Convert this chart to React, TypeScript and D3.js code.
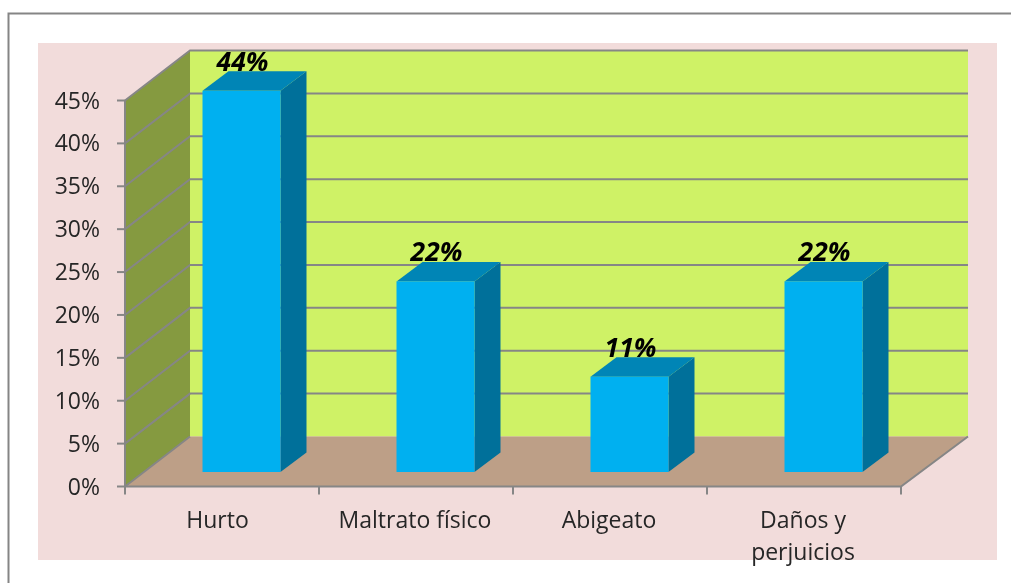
import React from "react";
import * as d3 from "d3";

const categories = ["Hurto", "Maltrato físico", "Abigeato", "Daños y|perjuicios"];
const values = [0.4444, 0.2222, 0.1111, 0.2222];
const ticks = [0, 0.05, 0.1, 0.15, 0.2, 0.25, 0.3, 0.35, 0.4, 0.45];

const W = 1011, H = 583;
const x0 = 125, x1 = 901, y0 = 486.5, y1 = 100.5;
const depthX = 65, depthY = -50;
const barDX = 19.5, barDY = -14.5, barW = 78, barDepthX = 26, barDepthY = -19.5;
const labelShift = [-4.5, -1, -1, -1];
const FONT = "'Open Sans', sans-serif";
const GRID = "#868686";

const y = d3.scaleLinear().domain([0, 0.45]).range([y0, y1]);
const x = d3.scaleBand<string>().domain(categories).range([x0, x1]);
const pct = d3.format(".0%");
const poly = (pts: number[][]) => d3.line()(pts as [number, number][]) + "Z";

export default function App() {
  const backR = x1 + depthX + 2;
  return (
    <svg width={W} height={H} style={{ position: "absolute", left: 0, top: 0, display: "block" }}>
      <defs>
        <filter id="soft" x="0" y="0" width="100%" height="100%" filterUnits="userSpaceOnUse" primitiveUnits="userSpaceOnUse">
          <feGaussianBlur stdDeviation="0.45" />
        </filter>
      </defs>
      <rect width={W} height={H} fill="#ffffff" />
      <g filter="url(#soft)">
        <path d={`M8.5 ${H + 5}V13.5H${W + 5}`} fill="none" stroke="#858585" strokeWidth={2} />
        <rect x={38} y={43} width={959} height={517} fill="#f2dcdb" />

        {/* back wall */}
        <path d={poly([[x0 + depthX, y1 + depthY], [backR, y1 + depthY], [backR, y0 + depthY], [x0 + depthX, y0 + depthY]])} fill="#cff266" />
        {/* side wall */}
        <path d={poly([[x0, y1], [x0 + depthX, y1 + depthY], [x0 + depthX, y0 + depthY], [x0, y0]])} fill="#859a3f" />
        {/* floor */}
        <path d={poly([[x0, y0], [x1, y0], [backR, y0 + depthY], [x0 + depthX, y0 + depthY]])} fill="#bd9f87" />

        {/* gridlines */}
        {ticks.map((t) => (
          <path
            key={t}
            d={t === 0
              ? `M${x0} ${y(t)}L${x0 + depthX} ${y(t) + depthY}`
              : `M${x0} ${y(t)}L${x0 + depthX} ${y(t) + depthY}H${backR}`}
            fill="none"
            stroke={GRID}
            strokeWidth={2}
          />
        ))}
        <path d={`M${x0} ${y1}V${y0}H${x1}L${backR} ${y0 + depthY}`} fill="none" stroke={GRID} strokeWidth={2} />

        {/* y ticks and labels */}
        {ticks.map((t) => (
          <g key={t}>
            <line x1={x0 - 8} x2={x0} y1={y(t)} y2={y(t)} stroke={GRID} strokeWidth={2} />
            <text x={100} y={y(t) + 8} textAnchor="end" fontFamily={FONT} fontSize={23} fill="#262626">{pct(t)}</text>
          </g>
        ))}

        {/* x ticks */}
        {[...categories.map((c) => x(c) as number), x1].map((p) => (
          <line key={p} x1={p} x2={p} y1={y0} y2={y0 + 8} stroke={GRID} strokeWidth={2} />
        ))}

        {/* bars */}
        {categories.map((c, i) => {
          const cx = (x(c) as number) + x.bandwidth() / 2 + barDX;
          const l = cx - barW / 2, r = cx + barW / 2;
          const b = y(0) + barDY, t = y(values[i]) + barDY;
          return (
            <g key={c}>
              <path d={poly([[r, t], [r + barDepthX, t + barDepthY], [r + barDepthX, b + barDepthY], [r, b]])} fill="#00709a" />
              <path d={poly([[l, t], [r, t], [r + barDepthX, t + barDepthY], [l + barDepthX, t + barDepthY]])} fill="#0085b6" />
              <rect x={l} y={t} width={barW} height={b - t} fill="#00b0f0" />
              <text x={cx + 1} y={t - 20} textAnchor="middle" fontFamily={FONT} fontSize={26.5} fontWeight={700} fontStyle="italic" fill="#000">{pct(values[i])}</text>
            </g>
          );
        })}

        {/* category labels */}
        {categories.map((c, i) => {
          const cx = (x(c) as number) + x.bandwidth() / 2 + labelShift[i];
          return (
            <text key={c} y={528} textAnchor="middle" fontFamily={FONT} fontSize={23} fill="#262626">
              {c.split("|").map((s, j) => (
                <tspan key={s} x={cx} dy={j === 0 ? 0 : 32}>{s}</tspan>
              ))}
            </text>
          );
        })}
      </g>
    </svg>
  );
}
